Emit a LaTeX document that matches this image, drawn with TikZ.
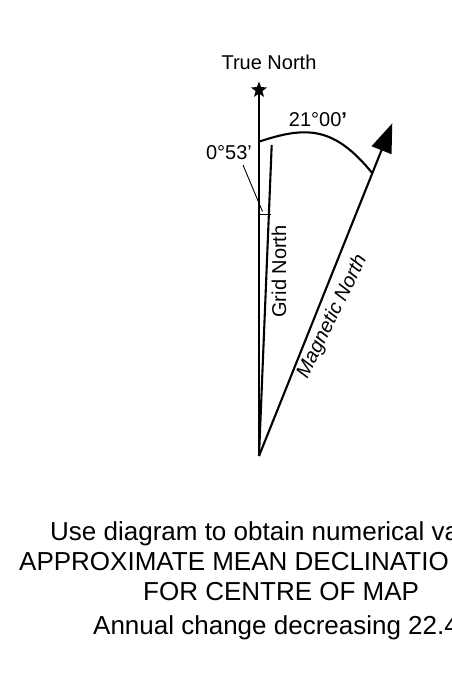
\documentclass[tikz,border=0pt]{standalone}
\usepackage{fontspec}
\setmainfont{Liberation Sans}
\usetikzlibrary{shapes.geometric,arrows.meta,calc}
\begin{document}
\begin{tikzpicture}[x=1pt,y=-1pt,
  mainline/.style={line width=2.1pt},
  thinline/.style={line width=0.9pt},
  lbl/.style={inner sep=0pt,font=\fontsize{20}{23}\selectfont},
  bottomtext/.style={inner sep=0pt,anchor=base west,font=\fontsize{26}{30}\selectfont},
  starshape/.style={star,star points=5,star point ratio=2.4,fill=black,inner sep=0pt,minimum size=17pt}]
\useasboundingbox (0,0) rectangle (452,678);
\clip (0,0) rectangle (452,678);
% points
\coordinate (v) at (259,456);
\node[starshape] (tn) at (259,90) {};
\coordinate (gtop) at (271.7,145);
\coordinate (mtip) at (392.3,123.3);
\coordinate (tk1) at (259,214);
\coordinate (tk2) at (271,214);
\coordinate (ld1) at (243,165);
\coordinate (ld2) at (262.5,211.5);
\coordinate (a1) at (259,141.7);
\coordinate (a2) at ($(v)!0.85!(mtip)$);
% lines
\draw[mainline] (v) -- (tn.center);
\draw[mainline] (v) -- (gtop);
\draw[mainline,-{Triangle[length=29pt,width=21pt]}] (v) -- (mtip);
\draw[thinline] (tk1) -- (tk2);
\draw[thinline] (ld1) -- (ld2);
\draw[mainline] (a1) .. controls (306,126) and (334,126) .. (a2);
% labels
\node[lbl] (ltn) at (269,62) {True North};
\node[lbl] (l21) at (318,120) {21°00{\bfseries '}};
\node[lbl] (l053) at (229,153) {0°53'};
\node[lbl,rotate=90] (lgn) at (279,271.5) {Grid North};
\node[lbl,rotate=64,font=\fontsize{20}{23}\selectfont\itshape] (lmn) at (332.5,316.7) {Magnetic North};
% bottom text
\node[bottomtext] (t1) at (50,540) {Use diagram to obtain numerical va};
\node[bottomtext] (t2) at (19,570) {APPROXIMATE MEAN DECLINATIO};
\node[bottomtext] (t3) at (143,600) {FOR CENTRE OF MAP};
\node[bottomtext] (t4) at (93,634) {Annual change decreasing 22.4};
\end{tikzpicture}
\end{document}
